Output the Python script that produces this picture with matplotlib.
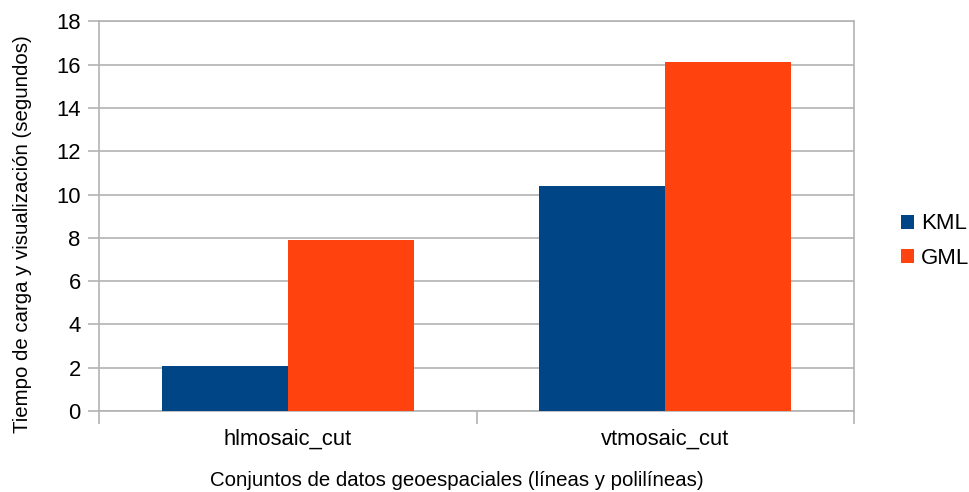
import numpy as np
import matplotlib.pyplot as plt
from matplotlib.patches import Patch

plt.rcParams['font.family'] = ['Liberation Sans', 'DejaVu Sans']

categories = ['hlmosaic_cut', 'vtmosaic_cut']
series_names = ['KML', 'GML']
kml_times = [2.1, 10.4]
gml_times = [7.9, 16.1]
colors = ['#004586', '#ff420e']
grid_color = '#b3b3b3'

fig = plt.figure(figsize=(9.7, 4.92), dpi=100)
ax = fig.add_axes([0.1018, 0.1646, 0.7789, 0.7921])

x = np.arange(len(categories))
w = 1 / 3
ax.bar(x - w / 2, kml_times, width=w, color=colors[0], zorder=3)
ax.bar(x + w / 2, gml_times, width=w, color=colors[1], zorder=3)

ax.set_xlim(-0.5, len(categories) - 0.5)
ax.set_ylim(0, 18)
ax.set_yticks(np.arange(0, 19, 2))
ax.yaxis.grid(True, color=grid_color, linewidth=1.2, zorder=0)

# category labels sit between boundary ticks
ax.set_xticks(np.arange(-0.5, len(categories), 1))
ax.set_xticklabels([])
ax.set_xticks(x, minor=True)
ax.set_xticklabels(categories, minor=True, fontsize=15.8)
ax.tick_params(axis='x', which='minor', length=0, pad=13)
ax.tick_params(axis='x', which='major', length=9, color=grid_color, width=1.2)
ax.tick_params(axis='y', length=8, color=grid_color, width=1.2, labelsize=15.8, pad=5)

for s in ax.spines.values():
    s.set_color(grid_color)
    s.set_linewidth(1.2)

ax.set_xlabel('Conjuntos de datos geoespaciales (líneas y polilíneas)', fontsize=14.7)
ax.set_ylabel('Tiempo de carga y visualización (segundos)', fontsize=14.7)
ax.xaxis.set_label_coords(0.474, -0.153)
ax.yaxis.set_label_coords(-0.089, 0.455)

handles = [Patch(facecolor=c, edgecolor='none') for c in colors]
fig.legend(handles, series_names, loc='center left', bbox_to_anchor=(0.929, 0.51),
           frameon=False, fontsize=16, handlelength=0.6, handleheight=0.6,
           handletextpad=0.3, labelspacing=0.6, borderaxespad=0, borderpad=0)

fig.savefig('out.png', dpi=100)
